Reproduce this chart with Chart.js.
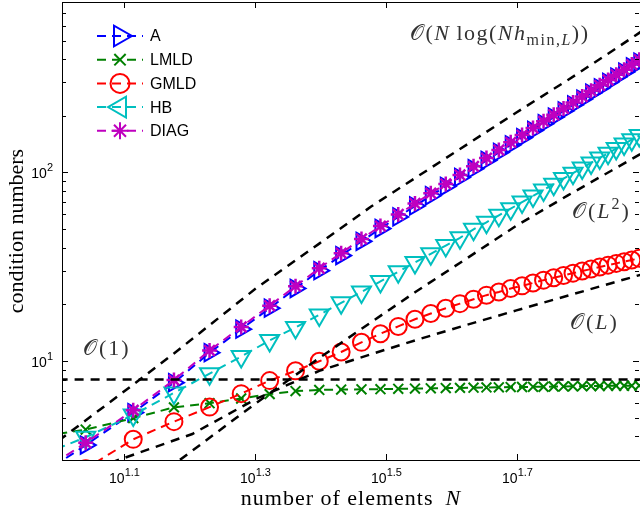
<!DOCTYPE html>
<html>
<head>
<meta charset="utf-8">
<script src="https://cdn.jsdelivr.net/npm/chart.js@4.4.0/dist/chart.umd.min.js"></script>
<style>
  html, body { margin: 0; padding: 0; background: #fff; }
  #wrap { width: 640px; height: 516px; position: relative; }
</style>
</head>
<body>
<div id="wrap"><canvas id="chart"></canvas></div>
<script>
const N_ELEMENTS = [9, 11, 13, 15, 17, 19, 21, 23, 25, 27, 29, 31, 33, 35, 37, 39, 41, 43, 45, 47, 49, 51, 53, 55, 57, 59, 61, 63, 65, 67, 69, 71, 73, 75, 77]
const A_COND    = [2.27, 3.6, 5.35, 7.7, 11.1, 14.8, 19.1, 24.3, 30.2, 36.3, 43.2, 50.5, 58.2, 66.5, 75.3, 84.5, 94.2, 104.7, 115.8, 127.7, 140.2, 153.2, 167, 181.3, 196.3, 212, 228, 245, 263, 281, 300, 320, 340, 362, 384]
const LMLD_COND = [3.9, 4.35, 5.0, 5.7, 6.0, 6.35, 6.7, 6.95, 7.05, 7.08, 7.1, 7.12, 7.15, 7.17, 7.19, 7.21, 7.23, 7.25, 7.27, 7.28, 7.3, 7.31, 7.32, 7.33, 7.35, 7.36, 7.37, 7.38, 7.39, 7.4, 7.41, 7.42, 7.42, 7.43, 7.44]
const GMLD_COND = [1.9, 2.7, 3.86, 4.79, 5.72, 6.74, 7.9, 8.9, 10.0, 11.2, 12.6, 14.0, 15.3, 16.7, 17.9, 19.1, 20.2, 21.3, 22.4, 23.3, 24.3, 25.1, 26.0, 26.9, 27.7, 28.5, 29.3, 30.1, 30.8, 31.6, 32.3, 33.0, 33.7, 34.4, 35.1]
const HB_COND   = [3.0, 3.96, 5.2, 6.8, 8.6, 10.6, 12.9, 15.1, 17.6, 20.4, 23.3, 26.5, 29.8, 33.4, 37.1, 41.0, 45.1, 50.0, 54.5, 59.3, 64.3, 69.7, 75.1, 80.8, 86.7, 92.8, 99.1, 105.7, 112.4, 119.4, 126.5, 133.9, 141.5, 149.3, 157]
const DIAG_COND = [2.35, 3.7, 5.5, 7.95, 11.4, 15.2, 19.7, 25.0, 31.1, 37.4, 44.5, 52.0, 59.9, 68.5, 77.6, 87.0, 97.0, 107.8, 119.2, 131.5, 144.4, 157.8, 172, 186.7, 202.2, 218.4, 234.8, 252.4, 270.9, 289.4, 309, 329.6, 350.2, 372.9, 395.5]

// reference slopes (black dashed)
const REF_NLOG_N = [10, 12, 15, 20, 25, 30, 40, 50, 60, 70, 80]
const REF_NLOG   = [3.8, 6.1, 11.0, 24.3, 42, 66, 126, 208, 310, 440, 600]
const REF_L2_N   = [14, 16, 20, 25, 30, 35, 42, 50, 60, 70, 80]
const REF_L2     = [2.38, 3.36, 5.99, 10.4, 16.1, 23.2, 35.1, 52.3, 75.9, 102.8, 134]
const REF_L_N    = [12, 16, 20, 25, 30, 35, 42, 50, 60, 70, 80]
const REF_L      = [2.9, 4.12, 6.31, 8.9, 10.9, 12.9, 15.6, 18.6, 22.3, 26.0, 29.7]
const REF_ONE_N  = [10, 80]
const REF_ONE    = [8, 8]

const X_TICK_EXP = [1.1, 1.3, 1.5, 1.7]
const Y_TICK_EXP = [1, 2]
const X_RANGE = [10.12, 77.2]
const Y_RANGE = [3, 800]

const SERIF = '"Liberation Serif", "DejaVu Serif", serif'
const SANS = '"Liberation Sans", Arial, sans-serif'

const pts = (xs, ys) => xs.map((x, i) => ({ x, y: ys[i] }))

const SERIES = [
  { label: 'A',    data: A_COND,    color: '#0000ff', style: 'triangle', rot: 90,  r: 10,  legRot: 90 },
  { label: 'LMLD', data: LMLD_COND, color: '#008000', style: 'crossRot', rot: 0,   r: 7,   legRot: 0 },
  { label: 'GMLD', data: GMLD_COND, color: '#ff0000', style: 'circle',   rot: 0,   r: 8.5, legRot: 0 },
  { label: 'HB',   data: HB_COND,   color: '#00bfbf', style: 'triangle', rot: 180, r: 11,  legRot: 270 },
  { label: 'DIAG', data: DIAG_COND, color: '#bf00bf', style: 'star',     rot: 0,   r: 7.5, legRot: 0 }
]
const DRAW_ORDER = { A: 6, LMLD: 5, GMLD: 4, HB: 3, DIAG: 2 }

const seriesSets = SERIES.map(s => ({
  label: s.label,
  data: pts(N_ELEMENTS, s.data),
  borderColor: s.color,
  borderWidth: 2,
  borderDash: [9, 6],
  pointStyle: s.style,
  pointRotation: s.rot,
  pointRadius: s.r,
  pointBorderWidth: s.style === 'star' ? 2.5 : 2,
  pointBorderColor: s.color,
  pointBackgroundColor: 'rgba(0,0,0,0)',
  fill: false,
  clip: 0,
  order: DRAW_ORDER[s.label]
}))

const refSet = (xs, ys) => ({
  data: pts(xs, ys),
  borderColor: '#000',
  borderWidth: 2.5,
  borderDash: [9, 7],
  pointRadius: 0,
  fill: false,
  clip: 0,
  order: 1
})

function drawRuns(ctx, runs, x, y, align) {
  let w = 0
  runs.forEach(r => { ctx.font = r.font; w += ctx.measureText(r.t).width })
  let cx = align === 'center' ? x - w / 2 : align === 'right' ? x - w : x
  ctx.textAlign = 'left'
  ctx.textBaseline = 'alphabetic'
  runs.forEach(r => {
    ctx.font = r.font
    ctx.fillText(r.t, cx, y + (r.dy || 0))
    cx += ctx.measureText(r.t).width
  })
}

const frame = {
  id: 'frame',
  afterDatasetsDraw(chart) {
    const { ctx, chartArea: a, scales: { x, y } } = chart
    ctx.save()
    ctx.strokeStyle = '#000'
    ctx.fillStyle = '#000'
    ctx.lineWidth = 1
    ctx.setLineDash([])
    ctx.strokeRect(Math.round(a.left) + .5, Math.round(a.top) + .5, a.right - a.left, a.bottom - a.top)

    // x ticks top and bottom
    X_TICK_EXP.forEach(e => {
      const px = Math.round(x.getPixelForValue(Math.pow(10, e))) + .5
      ctx.beginPath()
      ctx.moveTo(px, a.bottom); ctx.lineTo(px, a.bottom - 6)
      ctx.moveTo(px, a.top); ctx.lineTo(px, a.top + 6)
      ctx.stroke()
      drawRuns(ctx, [
        { t: '10', font: '14px ' + SANS },
        { t: String(e), font: '11px ' + SANS, dy: -7 }
      ], px, a.bottom + 23, 'center')
    })

    // y ticks, log minor ticks
    for (let d = 0; d <= 2; d++) {
      for (let m = 1; m <= 9; m++) {
        const v = m * Math.pow(10, d)
        if (v < Y_RANGE[0] || v > Y_RANGE[1]) continue
        const py = Math.round(y.getPixelForValue(v)) + .5
        const len = m === 1 ? 6 : 4
        ctx.beginPath()
        ctx.moveTo(a.left, py); ctx.lineTo(a.left + len, py)
        ctx.moveTo(a.right - 1, py); ctx.lineTo(a.right - 1 - len, py)
        ctx.stroke()
      }
    }
    Y_TICK_EXP.forEach(e => {
      const py = y.getPixelForValue(Math.pow(10, e))
      drawRuns(ctx, [
        { t: '10', font: '14px ' + SANS },
        { t: String(e), font: '11px ' + SANS, dy: -7 }
      ], a.left - 9, py + 6, 'right')
    })

    // axis titles
    ctx.letterSpacing = '1px'
    drawRuns(ctx, [
      { t: 'number of elements\u2002', font: '22px ' + SERIF },
      { t: 'N', font: 'italic 22px ' + SERIF }
    ], 351, 505, 'center')
    ctx.letterSpacing = '0px'
    ctx.save()
    ctx.translate(17, 231)
    ctx.rotate(-Math.PI / 2)
    ctx.font = '22px ' + SERIF
    ctx.textAlign = 'center'
    ctx.textBaseline = 'middle'
    ctx.fillText('condition numbers', 0, 0)
    ctx.restore()

    // slope annotations
    ctx.fillStyle = '#333'
    const M = '22px ' + SERIF, MI = 'italic 22px ' + SERIF
    const S = '16px ' + SERIF, SI = 'italic 16px ' + SERIF
    ctx.letterSpacing = '1.5px'
    drawRuns(ctx, [
      { t: '\u{1D4AA}(', font: M }, { t: 'N', font: MI }, { t: '\u2009log(', font: M },
      { t: 'Nh', font: MI }, { t: 'min,', font: S, dy: 5 }, { t: 'L', font: SI, dy: 5 }, { t: '))', font: M }
    ], 410, 40, 'left')
    ctx.letterSpacing = '2px'
    drawRuns(ctx, [
      { t: '\u{1D4AA}(', font: M }, { t: 'L', font: MI }, { t: '2', font: S, dy: -9 }, { t: ')', font: M }
    ], 572, 218, 'left')
    drawRuns(ctx, [
      { t: '\u{1D4AA}(', font: M }, { t: 'L', font: MI }, { t: ')', font: M }
    ], 570, 329, 'left')
    drawRuns(ctx, [
      { t: '\u{1D4AA}(1)', font: M }
    ], 83, 355, 'left')
    ctx.letterSpacing = '0px'

    // legend
    SERIES.forEach((s, i) => {
      const ly = 36 + i * 23.7
      ctx.strokeStyle = s.color
      ctx.lineWidth = 2
      ctx.setLineDash([9, 6])
      ctx.beginPath()
      ctx.moveTo(97, ly); ctx.lineTo(143, ly)
      ctx.stroke()
      ctx.setLineDash([])
      ctx.fillStyle = 'rgba(0,0,0,0)'
      Chart.helpers.drawPoint(ctx, { pointStyle: s.style, rotation: s.legRot, radius: s.style === 'triangle' ? 12 : s.r + 1, borderWidth: 2.5 }, 120, ly)
      ctx.fillStyle = '#000'
      ctx.font = '16px ' + SANS
      ctx.textAlign = 'left'
      ctx.textBaseline = 'middle'
      ctx.fillText(s.label, 150, ly + 1)
    })
    ctx.restore()
  }
}

new Chart(document.getElementById('chart'), {
  type: 'line',
  data: {
    datasets: [
      refSet(REF_NLOG_N, REF_NLOG),
      refSet(REF_L2_N, REF_L2),
      refSet(REF_L_N, REF_L),
      refSet(REF_ONE_N, REF_ONE),
      ...seriesSets
    ]
  },
  options: {
    responsive: true,
    maintainAspectRatio: false,
    animation: false,
    devicePixelRatio: 1,
    layout: { autoPadding: false, padding: { left: 62, top: 2, right: 0, bottom: 56 } },
    plugins: { legend: { display: false }, tooltip: { enabled: false } },
    scales: {
      x: { type: 'logarithmic', min: X_RANGE[0], max: X_RANGE[1], display: false },
      y: { type: 'logarithmic', min: Y_RANGE[0], max: Y_RANGE[1], display: false }
    }
  },
  plugins: [frame]
})
</script>
</body>
</html>
